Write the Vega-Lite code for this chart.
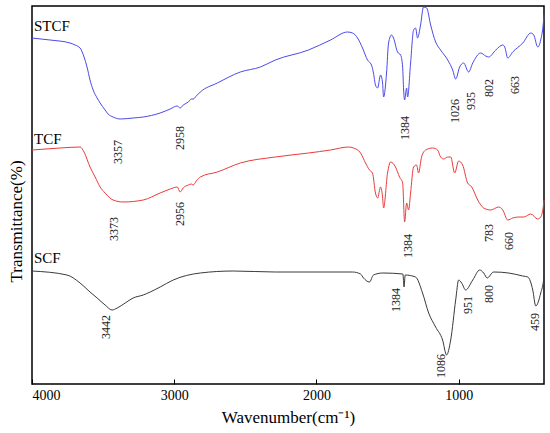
{
  "$schema": "https://vega.github.io/schema/vega-lite/v6.json",
  "autosize": "none",
  "width": 512,
  "height": 378,
  "padding": {"left": 32, "top": 6, "right": 6, "bottom": 49},
  "background": "white",
  "config": {
    "view": {"stroke": "black", "strokeWidth": 1.5},
    "font": "Liberation Serif"
  },
  "datasets": {
    "spectra": [
      {"s":"STCF","w":4000,"t":345},{"s":"STCF","w":3873,"t":343},{"s":"STCF","w":3732,"t":340},{"s":"STCF","w":3697,"t":338},{"s":"STCF","w":3662,"t":335},{"s":"STCF","w":3634,"t":326},{"s":"STCF","w":3613,"t":316},{"s":"STCF","w":3592,"t":303},{"s":"STCF","w":3570,"t":293},{"s":"STCF","w":3542,"t":285},{"s":"STCF","w":3521,"t":280},{"s":"STCF","w":3486,"t":273},{"s":"STCF","w":3465,"t":269},{"s":"STCF","w":3430,"t":266},{"s":"STCF","w":3380,"t":264},{"s":"STCF","w":3289,"t":265},{"s":"STCF","w":3218,"t":266},{"s":"STCF","w":3099,"t":270},{"s":"STCF","w":3028,"t":274},{"s":"STCF","w":2979,"t":277},{"s":"STCF","w":2958,"t":275},{"s":"STCF","w":2937,"t":278},{"s":"STCF","w":2901,"t":281},{"s":"STCF","w":2880,"t":284},{"s":"STCF","w":2866,"t":284},{"s":"STCF","w":2845,"t":287},{"s":"STCF","w":2817,"t":291},{"s":"STCF","w":2697,"t":300},{"s":"STCF","w":2535,"t":311},{"s":"STCF","w":2394,"t":316},{"s":"STCF","w":2289,"t":323},{"s":"STCF","w":2056,"t":333},{"s":"STCF","w":1901,"t":343},{"s":"STCF","w":1782,"t":351},{"s":"STCF","w":1746,"t":350},{"s":"STCF","w":1711,"t":345},{"s":"STCF","w":1676,"t":335},{"s":"STCF","w":1641,"t":323},{"s":"STCF","w":1613,"t":318},{"s":"STCF","w":1599,"t":310},{"s":"STCF","w":1585,"t":298},{"s":"STCF","w":1570,"t":295},{"s":"STCF","w":1549,"t":308},{"s":"STCF","w":1535,"t":300},{"s":"STCF","w":1528,"t":286},{"s":"STCF","w":1507,"t":310},{"s":"STCF","w":1493,"t":340},{"s":"STCF","w":1472,"t":348},{"s":"STCF","w":1458,"t":345},{"s":"STCF","w":1430,"t":331},{"s":"STCF","w":1408,"t":328},{"s":"STCF","w":1394,"t":316},{"s":"STCF","w":1387,"t":293},{"s":"STCF","w":1380,"t":283},{"s":"STCF","w":1366,"t":295},{"s":"STCF","w":1359,"t":286},{"s":"STCF","w":1338,"t":320},{"s":"STCF","w":1317,"t":353},{"s":"STCF","w":1303,"t":355},{"s":"STCF","w":1289,"t":345},{"s":"STCF","w":1268,"t":358},{"s":"STCF","w":1247,"t":376},{"s":"STCF","w":1225,"t":375},{"s":"STCF","w":1197,"t":358},{"s":"STCF","w":1162,"t":341},{"s":"STCF","w":1127,"t":333},{"s":"STCF","w":1077,"t":323},{"s":"STCF","w":1042,"t":313},{"s":"STCF","w":1021,"t":304},{"s":"STCF","w":993,"t":316},{"s":"STCF","w":965,"t":320},{"s":"STCF","w":930,"t":311},{"s":"STCF","w":901,"t":320},{"s":"STCF","w":845,"t":330},{"s":"STCF","w":810,"t":327},{"s":"STCF","w":789,"t":326},{"s":"STCF","w":739,"t":333},{"s":"STCF","w":690,"t":338},{"s":"STCF","w":676,"t":336},{"s":"STCF","w":655,"t":325},{"s":"STCF","w":620,"t":331},{"s":"STCF","w":549,"t":340},{"s":"STCF","w":493,"t":350},{"s":"STCF","w":472,"t":348},{"s":"STCF","w":444,"t":336},{"s":"STCF","w":423,"t":343},{"s":"STCF","w":401,"t":366},{"s":"STCF","w":400,"t":368},
      {"s":"TCF","w":4000,"t":233},{"s":"TCF","w":3803,"t":235},{"s":"TCF","w":3662,"t":236},{"s":"TCF","w":3634,"t":231},{"s":"TCF","w":3592,"t":216},{"s":"TCF","w":3556,"t":206},{"s":"TCF","w":3521,"t":196},{"s":"TCF","w":3486,"t":190},{"s":"TCF","w":3430,"t":183},{"s":"TCF","w":3359,"t":181},{"s":"TCF","w":3218,"t":183},{"s":"TCF","w":3099,"t":190},{"s":"TCF","w":3028,"t":194},{"s":"TCF","w":2979,"t":196},{"s":"TCF","w":2958,"t":191},{"s":"TCF","w":2937,"t":195},{"s":"TCF","w":2901,"t":198},{"s":"TCF","w":2880,"t":199},{"s":"TCF","w":2866,"t":198},{"s":"TCF","w":2845,"t":202},{"s":"TCF","w":2817,"t":206},{"s":"TCF","w":2697,"t":211},{"s":"TCF","w":2535,"t":220},{"s":"TCF","w":2289,"t":226},{"s":"TCF","w":2056,"t":230},{"s":"TCF","w":1901,"t":233},{"s":"TCF","w":1775,"t":236},{"s":"TCF","w":1739,"t":235},{"s":"TCF","w":1690,"t":230},{"s":"TCF","w":1655,"t":220},{"s":"TCF","w":1627,"t":213},{"s":"TCF","w":1606,"t":210},{"s":"TCF","w":1585,"t":190},{"s":"TCF","w":1570,"t":185},{"s":"TCF","w":1549,"t":196},{"s":"TCF","w":1535,"t":186},{"s":"TCF","w":1528,"t":175},{"s":"TCF","w":1500,"t":210},{"s":"TCF","w":1479,"t":221},{"s":"TCF","w":1444,"t":216},{"s":"TCF","w":1416,"t":206},{"s":"TCF","w":1394,"t":200},{"s":"TCF","w":1380,"t":161},{"s":"TCF","w":1366,"t":180},{"s":"TCF","w":1352,"t":173},{"s":"TCF","w":1338,"t":190},{"s":"TCF","w":1317,"t":216},{"s":"TCF","w":1296,"t":218},{"s":"TCF","w":1282,"t":210},{"s":"TCF","w":1261,"t":226},{"s":"TCF","w":1232,"t":233},{"s":"TCF","w":1183,"t":235},{"s":"TCF","w":1148,"t":233},{"s":"TCF","w":1127,"t":226},{"s":"TCF","w":1106,"t":224},{"s":"TCF","w":1077,"t":226},{"s":"TCF","w":1056,"t":226},{"s":"TCF","w":1028,"t":210},{"s":"TCF","w":1000,"t":222},{"s":"TCF","w":972,"t":218},{"s":"TCF","w":937,"t":200},{"s":"TCF","w":908,"t":196},{"s":"TCF","w":866,"t":183},{"s":"TCF","w":824,"t":175},{"s":"TCF","w":775,"t":173},{"s":"TCF","w":718,"t":176},{"s":"TCF","w":690,"t":173},{"s":"TCF","w":655,"t":163},{"s":"TCF","w":620,"t":165},{"s":"TCF","w":577,"t":166},{"s":"TCF","w":542,"t":166},{"s":"TCF","w":493,"t":169},{"s":"TCF","w":444,"t":164},{"s":"TCF","w":423,"t":166},{"s":"TCF","w":401,"t":181},{"s":"TCF","w":400,"t":183},
      {"s":"SCF","w":4000,"t":112},{"s":"SCF","w":3754,"t":108},{"s":"SCF","w":3662,"t":100},{"s":"SCF","w":3592,"t":91},{"s":"SCF","w":3542,"t":85},{"s":"SCF","w":3486,"t":78},{"s":"SCF","w":3437,"t":73},{"s":"SCF","w":3401,"t":75},{"s":"SCF","w":3345,"t":80},{"s":"SCF","w":3289,"t":85},{"s":"SCF","w":3218,"t":88},{"s":"SCF","w":3169,"t":91},{"s":"SCF","w":3099,"t":96},{"s":"SCF","w":3007,"t":103},{"s":"SCF","w":2817,"t":110},{"s":"SCF","w":2585,"t":112},{"s":"SCF","w":2289,"t":111},{"s":"SCF","w":1746,"t":111},{"s":"SCF","w":1690,"t":109},{"s":"SCF","w":1669,"t":105},{"s":"SCF","w":1627,"t":101},{"s":"SCF","w":1599,"t":108},{"s":"SCF","w":1535,"t":110},{"s":"SCF","w":1392,"t":109},{"s":"SCF","w":1384,"t":96},{"s":"SCF","w":1376,"t":108},{"s":"SCF","w":1303,"t":106},{"s":"SCF","w":1254,"t":90},{"s":"SCF","w":1211,"t":70},{"s":"SCF","w":1162,"t":56},{"s":"SCF","w":1113,"t":43},{"s":"SCF","w":1085,"t":28},{"s":"SCF","w":1056,"t":43},{"s":"SCF","w":1021,"t":83},{"s":"SCF","w":1000,"t":103},{"s":"SCF","w":979,"t":100},{"s":"SCF","w":951,"t":93},{"s":"SCF","w":901,"t":103},{"s":"SCF","w":852,"t":113},{"s":"SCF","w":824,"t":110},{"s":"SCF","w":800,"t":105},{"s":"SCF","w":754,"t":111},{"s":"SCF","w":648,"t":110},{"s":"SCF","w":549,"t":107},{"s":"SCF","w":514,"t":106},{"s":"SCF","w":479,"t":93},{"s":"SCF","w":458,"t":77},{"s":"SCF","w":423,"t":90},{"s":"SCF","w":401,"t":105},{"s":"SCF","w":400,"t":107}
    ],
    "peaks": [
      {"label":"3357","w":3394,"t":231},{"label":"2958","w":2958,"t":245},{"label":"1384","w":1380,"t":255},{"label":"1026","w":1028,"t":272},{"label":"935","w":915,"t":282},{"label":"802","w":789,"t":295},{"label":"663","w":606,"t":298},
      {"label":"3373","w":3423,"t":154},{"label":"2956","w":2958,"t":169},{"label":"1384","w":1359,"t":137},{"label":"783","w":789,"t":150},{"label":"660","w":648,"t":142},
      {"label":"3442","w":3479,"t":56},{"label":"1384","w":1444,"t":83},{"label":"1086","w":1127,"t":17},{"label":"951","w":937,"t":78},{"label":"800","w":789,"t":89},{"label":"459","w":465,"t":61}
    ],
    "names": [
      {"label":"STCF","w":3986,"t":357},{"label":"TCF","w":3986,"t":244},{"label":"SCF","w":3986,"t":125}
    ]
  },
  "encoding": {
    "x": {
      "field": "w", "type": "quantitative",
      "scale": {"domain": [400, 4000], "reverse": true, "nice": false, "zero": false},
      "axis": {
        "title": "Wavenumber(cm⁻¹)",
        "values": [4000, 3000, 2000, 1000],
        "format": "d",
        "grid": false, "domain": false,
        "tickSize": -5, "tickColor": "black", "tickWidth": 1,
        "labelFont": "Liberation Serif", "labelFontSize": 14, "labelColor": "black", "labelPadding": 9,
        "titleFont": "Liberation Serif", "titleFontSize": 17, "titleFontWeight": "normal", "titleColor": "black",
        "titleBaseline": "alphabetic", "titleY": 38
      }
    },
    "y": {
      "field": "t", "type": "quantitative",
      "scale": {"domain": [-1, 377], "nice": false, "zero": false},
      "axis": {
        "title": "Transmittance(%)",
        "grid": false, "domain": false, "ticks": false, "labels": false,
        "titleFont": "Liberation Serif", "titleFontSize": 17, "titleFontWeight": "normal", "titleColor": "black",
        "titleAngle": 270, "titleBaseline": "middle", "titleAlign": "center", "titleX": -16, "titleY": 215
      }
    }
  },
  "layer": [
    {
      "data": {"name": "spectra"},
      "mark": {"type": "line", "strokeWidth": 1, "interpolate": "monotone"},
      "encoding": {
        "color": {"field": "s", "type": "nominal", "legend": null,
          "scale": {"domain": ["STCF", "TCF", "SCF"], "range": ["#4a4ae8", "#e83c3c", "#3a3a3a"]}},
        "detail": {"field": "s"}
      }
    },
    {
      "data": {"name": "peaks"},
      "mark": {"type": "text", "angle": 270, "align": "center", "baseline": "middle", "font": "Liberation Serif", "fontSize": 12, "color": "#222"},
      "encoding": {"text": {"field": "label"}}
    },
    {
      "data": {"name": "names"},
      "mark": {"type": "text", "align": "left", "baseline": "middle", "font": "Liberation Serif", "fontSize": 15, "color": "black"},
      "encoding": {"text": {"field": "label"}}
    }
  ]
}
